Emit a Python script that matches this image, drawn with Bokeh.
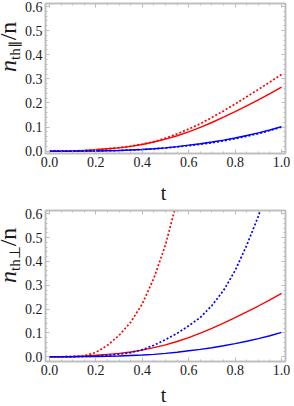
from bokeh.plotting import figure
from bokeh.layouts import column, row
from bokeh.models import FixedTicker, LinearAxis, Range1d, Div
from bokeh.embed import file_html
from bokeh.resources import INLINE

# ---------------- data ----------------
t = [0.0, 0.05, 0.1, 0.15, 0.2, 0.25, 0.3, 0.35, 0.4, 0.45, 0.5,
     0.55, 0.6, 0.65, 0.7, 0.75, 0.8, 0.85, 0.9, 0.95, 1.0]

# solid curves (same in both panels)
red_solid = [0.0, 0.0002, 0.001, 0.003, 0.006, 0.010, 0.014, 0.020, 0.028, 0.038, 0.050,
             0.064, 0.080, 0.099, 0.119, 0.141, 0.164, 0.188, 0.213, 0.239, 0.266]
blue_solid = [0.0, 0.0, 0.0002, 0.0005, 0.001, 0.002, 0.003, 0.005, 0.007, 0.010, 0.014,
              0.019, 0.025, 0.031, 0.038, 0.046, 0.055, 0.065, 0.076, 0.088, 0.102]

# top panel (parallel) dotted curves
red_dot_par = [0.0, 0.0002, 0.001, 0.003, 0.006, 0.010, 0.015, 0.021, 0.029, 0.040, 0.054,
               0.072, 0.092, 0.114, 0.140, 0.167, 0.196, 0.226, 0.256, 0.287, 0.318]
blue_dot_par = [0.0, 0.0, 0.0002, 0.0005, 0.001, 0.002, 0.003, 0.005, 0.007, 0.010, 0.013,
                0.018, 0.023, 0.029, 0.035, 0.043, 0.052, 0.062, 0.073, 0.086, 0.100]

# bottom panel (perpendicular) dotted curves
t_red_perp = [0.0, 0.05, 0.1, 0.15, 0.2, 0.25, 0.3, 0.35, 0.4, 0.45, 0.5, 0.55, 0.6]
red_dot_perp = [0.0, 0.0, 0.0005, 0.004, 0.018, 0.048, 0.090, 0.145, 0.222, 0.330, 0.470, 0.655, 0.88]
t_blue_perp = [0.0, 0.05, 0.1, 0.15, 0.2, 0.25, 0.3, 0.35, 0.4, 0.45, 0.5,
               0.55, 0.6, 0.65, 0.7, 0.75, 0.8, 0.85, 0.9, 0.95]
blue_dot_perp = [0.0, 0.0, 0.0002, 0.001, 0.003, 0.006, 0.010, 0.017, 0.030, 0.048, 0.072,
                 0.098, 0.130, 0.165, 0.215, 0.278, 0.362, 0.468, 0.590, 0.74]

x_ticks = [0.0, 0.2, 0.4, 0.6, 0.8, 1.0]
x_tick_labels = ["0.0", "0.2", "0.4", "0.6", "0.8", "1.0"]
y_ticks = [0.0, 0.1, 0.2, 0.3, 0.4, 0.5, 0.6]
y_tick_labels = ["0.0", "0.1", "0.2", "0.3", "0.4", "0.5", "0.6"]
x_minor = [i * 0.05 for i in range(21)]
y_minor = [i * 0.02 for i in range(31)]

x_label = "t"
y_label_main = ["n", "/n"]
y_label_subs = ["th\u2225", "th\u22a5"]

RED = "#ff0000"
BLUE = "#0000ff"
FRAME = "#bdbdbd"
TXT = "#1a1a1a"
SERIF = "Liberation Serif"

TOTAL_W = 290
LAB_W = 21
MAIN_W = TOTAL_W - LAB_W
BORDER_L = 21
BORDER_R = 5
TICK_B = 19


def ylabel_div(height, start_y, sub):
    """rotated y label  n_sub / n  as HTML text"""
    fs = 24
    left = 16.5 - 0.838 * fs
    html = (
        f'<div style="position:relative;width:{LAB_W}px;height:{height}px;">'
        f'<div style="position:absolute;left:{left:.1f}px;top:{start_y}px;'
        f'transform-origin:0 0;transform:rotate(-90deg);white-space:nowrap;'
        f"font-family:'{SERIF}',serif;font-size:{fs}px;line-height:1;color:{TXT};\">"
        f'<i>{y_label_main[0]}</i>'
        f'<span style="font-size:15px;position:relative;top:4px;">{sub}</span>'
        f'{y_label_main[1]}</div></div>'
    )
    return Div(text=html, width=LAB_W, height=height, margin=(0, 0, 0, 0),
               styles={"overflow": "visible", "padding": "0px"})


def xlabel_div(height, top):
    cx = BORDER_L + (MAIN_W - BORDER_L - BORDER_R) / 2
    html = (
        f'<div style="position:relative;width:{MAIN_W}px;height:{height}px;">'
        f'<div style="position:absolute;left:{cx:.1f}px;top:{top}px;'
        f'transform:translateX(-50%);white-space:nowrap;'
        f"font-family:'{SERIF}',serif;font-size:20px;line-height:0.8;color:{TXT};\">"
        f'{x_label}</div></div>'
    )
    return Div(text=html, width=MAIN_W, height=height, margin=(0, 0, 0, 0),
               styles={"overflow": "visible", "padding": "0px"})


def make_panel(border_top, frame_h, y_lo, y_hi, red_dot_t, red_dot, blue_dot_t, blue_dot):
    p = figure(width=MAIN_W, height=border_top + frame_h + TICK_B,
               output_backend="svg", toolbar_location=None,
               x_range=Range1d(-0.017, 1.017), y_range=Range1d(y_lo, y_hi),
               x_axis_location=None, y_axis_location=None,
               min_border_left=BORDER_L, min_border_right=BORDER_R,
               min_border_top=border_top, min_border_bottom=TICK_B)
    p.background_fill_color = "white"
    p.border_fill_color = "white"
    p.outline_line_color = FRAME
    p.outline_line_width = 1.5
    p.xgrid.visible = False
    p.ygrid.visible = False

    xl = {x: s for x, s in zip(x_ticks, x_tick_labels)}
    yl = {y: s for y, s in zip(y_ticks, y_tick_labels)}

    bottom = LinearAxis(ticker=FixedTicker(ticks=x_ticks, minor_ticks=x_minor),
                        major_label_overrides=xl)
    left = LinearAxis(ticker=FixedTicker(ticks=y_ticks, minor_ticks=y_minor),
                      major_label_overrides=yl)
    top = LinearAxis(ticker=FixedTicker(ticks=x_ticks, minor_ticks=x_minor))
    right = LinearAxis(ticker=FixedTicker(ticks=y_ticks, minor_ticks=y_minor))
    p.add_layout(bottom, "below")
    p.add_layout(left, "left")
    p.add_layout(top, "above")
    p.add_layout(right, "right")

    for ax in [bottom, left, top, right]:
        ax.axis_line_color = FRAME
        ax.axis_line_width = 1.5
        ax.major_tick_line_color = FRAME
        ax.minor_tick_line_color = FRAME
        ax.major_tick_in = 4
        ax.major_tick_out = 0
        ax.minor_tick_in = 2
        ax.minor_tick_out = 0
        ax.major_label_text_font = SERIF
        ax.major_label_text_font_size = "14px"
        ax.major_label_text_color = TXT
    for ax in [top, right]:
        ax.major_label_text_color = None
        ax.major_label_text_font_size = "1px"
        ax.major_label_standoff = 0

    left.major_label_standoff = 3
    bottom.major_label_standoff = 3

    p.line(t, red_solid, line_color=RED, line_width=1.4)
    p.line(red_dot_t, red_dot, line_color=RED, line_width=1.7, line_dash="2 2")
    p.line(t, blue_solid, line_color=BLUE, line_width=1.4)
    p.line(blue_dot_t, blue_dot, line_color=BLUE, line_width=1.7, line_dash="2 2")
    return p


S1, S2 = 35, 26
p1 = make_panel(3, 150, -0.0095, 0.6125, t, red_dot_par, t, blue_dot_par)
p2 = make_panel(3, 151, -0.020, 0.614, t_red_perp, red_dot_perp, t_blue_perp, blue_dot_perp)
x1 = xlabel_div(S1, 12.8)
x2 = xlabel_div(S2, 6.8)
H1 = p1.height + S1
H2 = p2.height + S2
l1 = ylabel_div(H1, 72, y_label_subs[0])
l2 = ylabel_div(H2, 76, y_label_subs[1])

layout = column(
    row(l1, column(p1, x1, spacing=0), spacing=0),
    row(l2, column(p2, x2, spacing=0), spacing=0),
    spacing=0,
)
open("out.html", "w").write(file_html(layout, INLINE))
